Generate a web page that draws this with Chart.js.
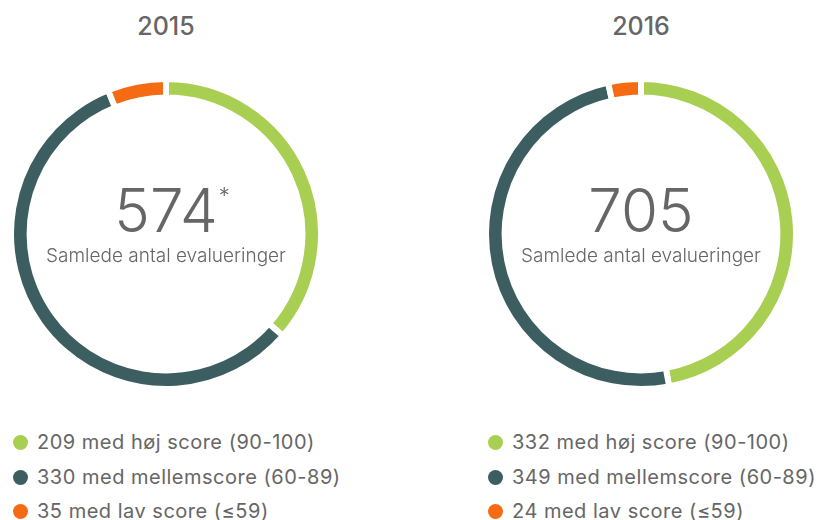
<!DOCTYPE html>
<html>
<head>
<meta charset="utf-8">
<script src="https://cdn.jsdelivr.net/npm/chart.js@4.4.1/dist/chart.umd.min.js"></script>
<style>
  html, body { margin: 0; padding: 0; background: #fff; }
  body { width: 819px; height: 520px; position: relative; overflow: hidden; font-family: Inter, "Liberation Sans", sans-serif; color: #666; }
  .title { position: absolute; width: 200px; text-align: center; font-size: 25px; font-weight: 500; line-height: 25px; top: 14px; }
  .ring { position: absolute; width: 316px; height: 316px; top: 76px; }
  .big { font-size: 60px; font-weight: 300; line-height: 60px; top: 180px; position: absolute; width: 300px; text-align: center; }
  .big sup { font-size: 22px; line-height: 22px; position: absolute; top: 4px; margin-left: 1px; }
  .sub { font-size: 19px; font-weight: 300; line-height: 20px; top: 246px; position: absolute; width: 300px; text-align: center; }
  .legend { position: absolute; top: 430px; }
  .legend div { position: relative; height: 34.5px; line-height: 25px; font-size: 20px; letter-spacing: 0.5px; padding-left: 24px; white-space: nowrap; }
  .legend span.dot { position: absolute; left: 0; top: 5px; width: 15px; height: 15px; border-radius: 50%; }
</style>
</head>
<body>
<script>
// ---- data ----
const years = ["2015", "2016"];
const totalLabels = ["574", "705"];
const totalMarks = ["*", ""];
const categories = ["med høj score (90-100)", "med mellemscore (60-89)", "med lav score (≤59)"];
const values2015 = [209, 330, 35];
const values2016 = [332, 349, 24];
const subtitle = "Samlede antal evalueringer";
const colors = ["#a8cf52", "#3d5e61", "#f46b13"];

const seriesList = [values2015, values2016];
const centersX = [166, 641];
const legendX = [13, 488];

seriesList.forEach((vals, i) => {
  const cx = centersX[i];
  const t = document.createElement('div');
  t.className = 'title'; t.style.left = (cx - 100) + 'px'; t.textContent = years[i];
  document.body.appendChild(t);

  const wrap = document.createElement('div');
  wrap.className = 'ring'; wrap.style.left = (cx - 158) + 'px';
  const cv = document.createElement('canvas');
  wrap.appendChild(cv);
  document.body.appendChild(wrap);

  const big = document.createElement('div');
  big.className = 'big'; big.style.left = (cx - 150) + 'px';
  big.textContent = totalLabels[i];
  if (totalMarks[i]) { const s = document.createElement('sup'); s.textContent = totalMarks[i]; big.appendChild(s); }
  document.body.appendChild(big);

  const sub = document.createElement('div');
  sub.className = 'sub'; sub.style.left = (cx - 150) + 'px'; sub.textContent = subtitle;
  document.body.appendChild(sub);

  const lg = document.createElement('div');
  lg.className = 'legend'; lg.style.left = legendX[i] + 'px';
  categories.forEach((c, k) => {
    const row = document.createElement('div');
    const d = document.createElement('span'); d.className = 'dot'; d.style.background = colors[k];
    row.appendChild(d);
    row.appendChild(document.createTextNode(vals[k] + ' ' + c));
    lg.appendChild(row);
  });
  document.body.appendChild(lg);

  new Chart(cv, {
    type: 'doughnut',
    data: { labels: categories, datasets: [{ data: vals, backgroundColor: colors, borderColor: '#ffffff', borderWidth: 6, hoverOffset: 0 }] },
    options: {
      responsive: true, maintainAspectRatio: false, animation: false,
      cutout: '88%',
      events: [],
      plugins: { legend: { display: false }, tooltip: { enabled: false } },
      layout: { padding: 0 }
    }
  });
});
</script>
</body>
</html>
